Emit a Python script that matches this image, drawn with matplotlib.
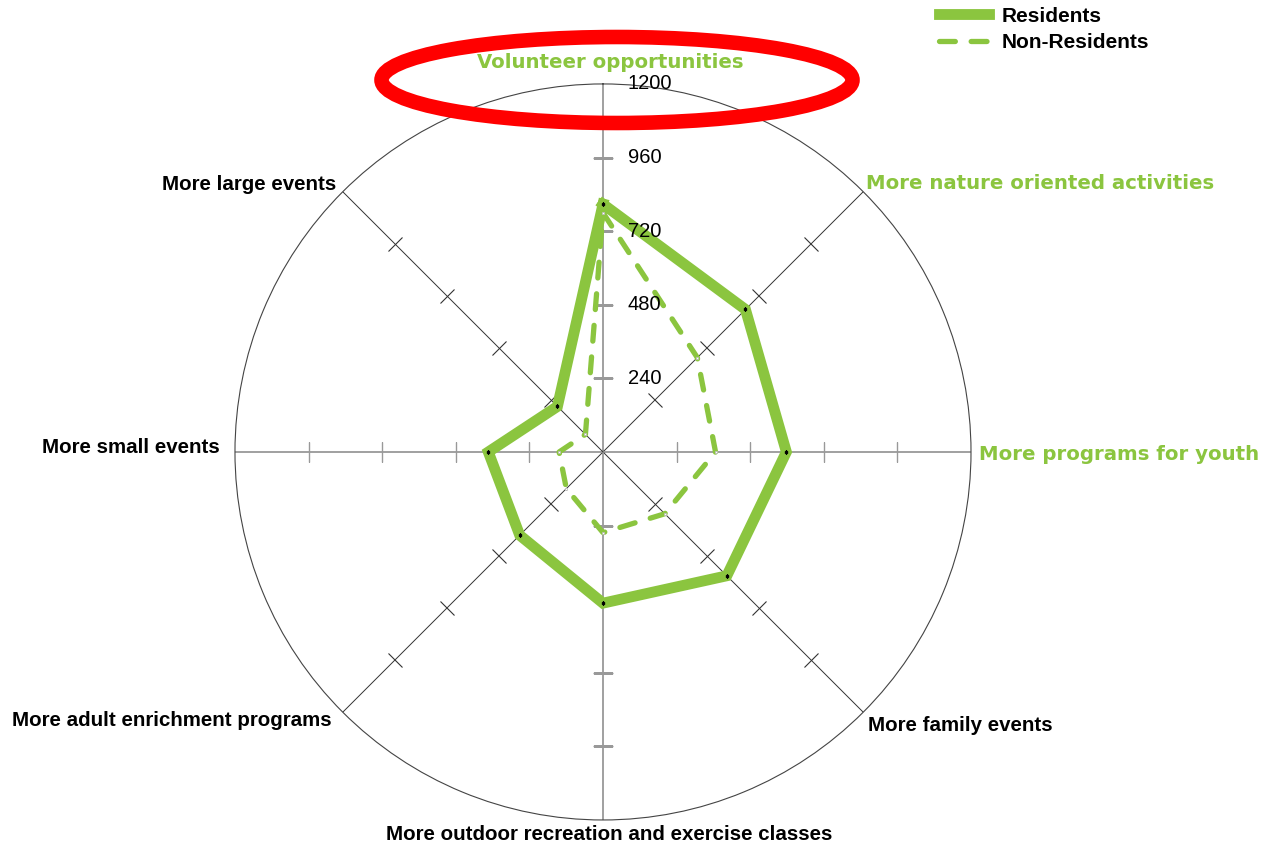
import numpy as np
import matplotlib
matplotlib.use("Agg")
import matplotlib.pyplot as plt
from matplotlib.markers import MarkerStyle
from matplotlib.transforms import Affine2D
from matplotlib.patches import Ellipse

plt.rcParams['font.family'] = ['Liberation Sans', 'DejaVu Sans']

# --- Data ---
categories = ['Volunteer opportunities', 'More nature oriented activities',
              'More programs for youth', 'More family events',
              'More outdoor recreation and exercise classes',
              'More adult enrichment programs', 'More small events',
              'More large events']
residents = [808, 657, 598, 571, 493, 384, 374, 210]
non_residents = [780, 435, 367, 285, 263, 169, 143, 81]
r_ticks = [240, 480, 720, 960, 1200]
r_max = 1200

green = '#8BC53F'
highlighted = ['Volunteer opportunities', 'More nature oriented activities',
               'More programs for youth']

fig = plt.figure(figsize=(12.64, 8.47), dpi=100)
ax = fig.add_axes([0.1859, 0.0319, 0.5823, 0.869], projection='polar')
ax.set_theta_zero_location('N')
ax.set_theta_direction(-1)
ax.set_ylim(0, r_max)
ax.grid(False)
ax.set_xticks([])
ax.set_yticks([])
ax.spines['polar'].set_color('#444444')
ax.spines['polar'].set_linewidth(0.8)

n = len(categories)
angles = np.arange(n) * 2 * np.pi / n

# spokes and cross ticks
for i, a in enumerate(angles):
    col = '#999999' if i % 2 == 0 else '#333333'
    lw = 1.3 if i % 2 == 0 else 0.7
    ax.plot([a, a], [0, r_max], color=col, lw=lw, zorder=1)
    deg = np.degrees(a)
    m = MarkerStyle('_', transform=Affine2D().rotate_deg(-deg))
    ax.plot([a] * 4, r_ticks[:-1], linestyle='none', marker=m, markersize=14,
            markeredgewidth=0.8 if i % 2 else 1.0, color=col, zorder=1)

# radial labels
for r in r_ticks:
    ax.annotate(str(r), xy=(0, r), xytext=(18, 0), textcoords='offset points',
                ha='left', va='center', fontsize=14.5, color='black', zorder=5)

closed = np.append(angles, angles[0])
res = np.append(residents, residents[0])
nres = np.append(non_residents, non_residents[0])
ax.plot(closed, res, color=green, lw=7.8, solid_joinstyle='miter', zorder=3,
        label='Residents')
ax.plot(closed, nres, color=green, lw=3.8, linestyle=(0, (3, 3)),
        dash_capstyle='round', zorder=3, label='Non-Residents')
ax.plot(angles, residents, linestyle='none', marker='s', markersize=2,
        color='black', zorder=4)
ax.plot(angles, non_residents, linestyle='none', marker='s', markersize=2,
        markerfacecolor='white', markeredgecolor='#bbbbbb', markeredgewidth=0.5,
        zorder=4)

# category labels (pixel positions of label anchors)
W, H = 1264, 847
label_pos = [(610, 62, 'center'), (866, 183, 'left'), (979, 454, 'left'),
             (868, 725, 'left'), (609, 834, 'center'), (332, 720, 'right'),
             (220, 447, 'right'), (336, 185, 'right')]
for cat, (px, py, ha) in zip(categories, label_pos):
    if cat in highlighted:
        fig.text(px / W, 1 - py / H, cat, ha=ha, va='center', fontsize=14.2,
                 fontweight='bold', color=green, family='DejaVu Sans')
    else:
        fig.text(px / W, 1 - py / H, cat, ha=ha, va='center', fontsize=14.8,
                 fontweight='bold', color='black')

# legend
handles, labels = ax.get_legend_handles_labels()
fig.legend(handles, labels, loc='upper left', bbox_to_anchor=(920 / W, 1 + 12 / H),
           frameon=False, handlelength=2.4, handletextpad=0.6,
           labelspacing=0.35, prop={'weight': 'bold', 'size': 15})

# red highlight ellipse
fig.patches.append(Ellipse((617 / W, 1 - 80 / H), 471 / W, 86 / H,
                           transform=fig.transFigure, fill=False,
                           edgecolor='#FF0000', linewidth=10.5, zorder=10))

fig.savefig('out.png', dpi=100, facecolor='white')
